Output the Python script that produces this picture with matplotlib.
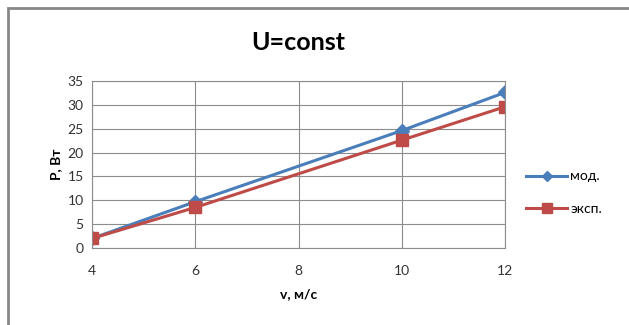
import matplotlib
matplotlib.use('Agg')
import matplotlib.pyplot as plt
from matplotlib.patches import Rectangle

# значения
v = [4, 6, 10, 12]
p_mod = [2.0, 9.7, 24.6, 32.6]
p_exp = [2.0, 8.5, 22.6, 29.6]
x_ticks = [4, 6, 8, 10, 12]
y_ticks = [0, 5, 10, 15, 20, 25, 30, 35]

plt.rcParams['font.family'] = ['Lato', 'DejaVu Sans']

fig = plt.figure(figsize=(6.29, 3.25), dpi=100)

# рамка диаграммы (видны только верх и лево)
fig.patches.append(Rectangle((8 / 629, -0.1), 1.2, 1 - 8 / 325 + 0.1,
                             transform=fig.transFigure, fill=False,
                             edgecolor='#878787', linewidth=2))

ax = fig.add_axes([92 / 629, 1 - 248 / 325, (505 - 92) / 629, (248 - 81) / 325])

ax.plot(v, p_mod, color='#4a7ebb', marker='D', markersize=7, linewidth=2.2,
        label='мод.')
ax.plot(v, p_exp, color='#be4b48', marker='s', markersize=9, linewidth=2.2,
        label='эксп.')

ax.set_xlim(4, 12)
ax.set_ylim(0, 35)
ax.set_xticks(x_ticks)
ax.set_yticks(y_ticks)
ax.grid(True, color='#8c8c8c', linewidth=0.8)
ax.set_axisbelow(True)
for s in ax.spines.values():
    s.set_color('#8c8c8c')
ax.tick_params(length=0, labelsize=10, colors='#333333', pad=6)
ax.tick_params(axis='x', pad=12)

ax.set_title('U=const', fontsize=18, fontweight='bold', pad=22)
ax.set_xlabel('v, м/с', fontsize=10, fontweight='bold', labelpad=8)
ax.set_ylabel('P, Вт', fontsize=10, fontweight='bold', labelpad=4)

ax.legend(loc='center left', bbox_to_anchor=(1.02, 0.33), frameon=False,
          fontsize=10, handlelength=3, labelspacing=1.5, handletextpad=0.2,
          markerscale=0.75)

plt.savefig('out.png', dpi=100)
